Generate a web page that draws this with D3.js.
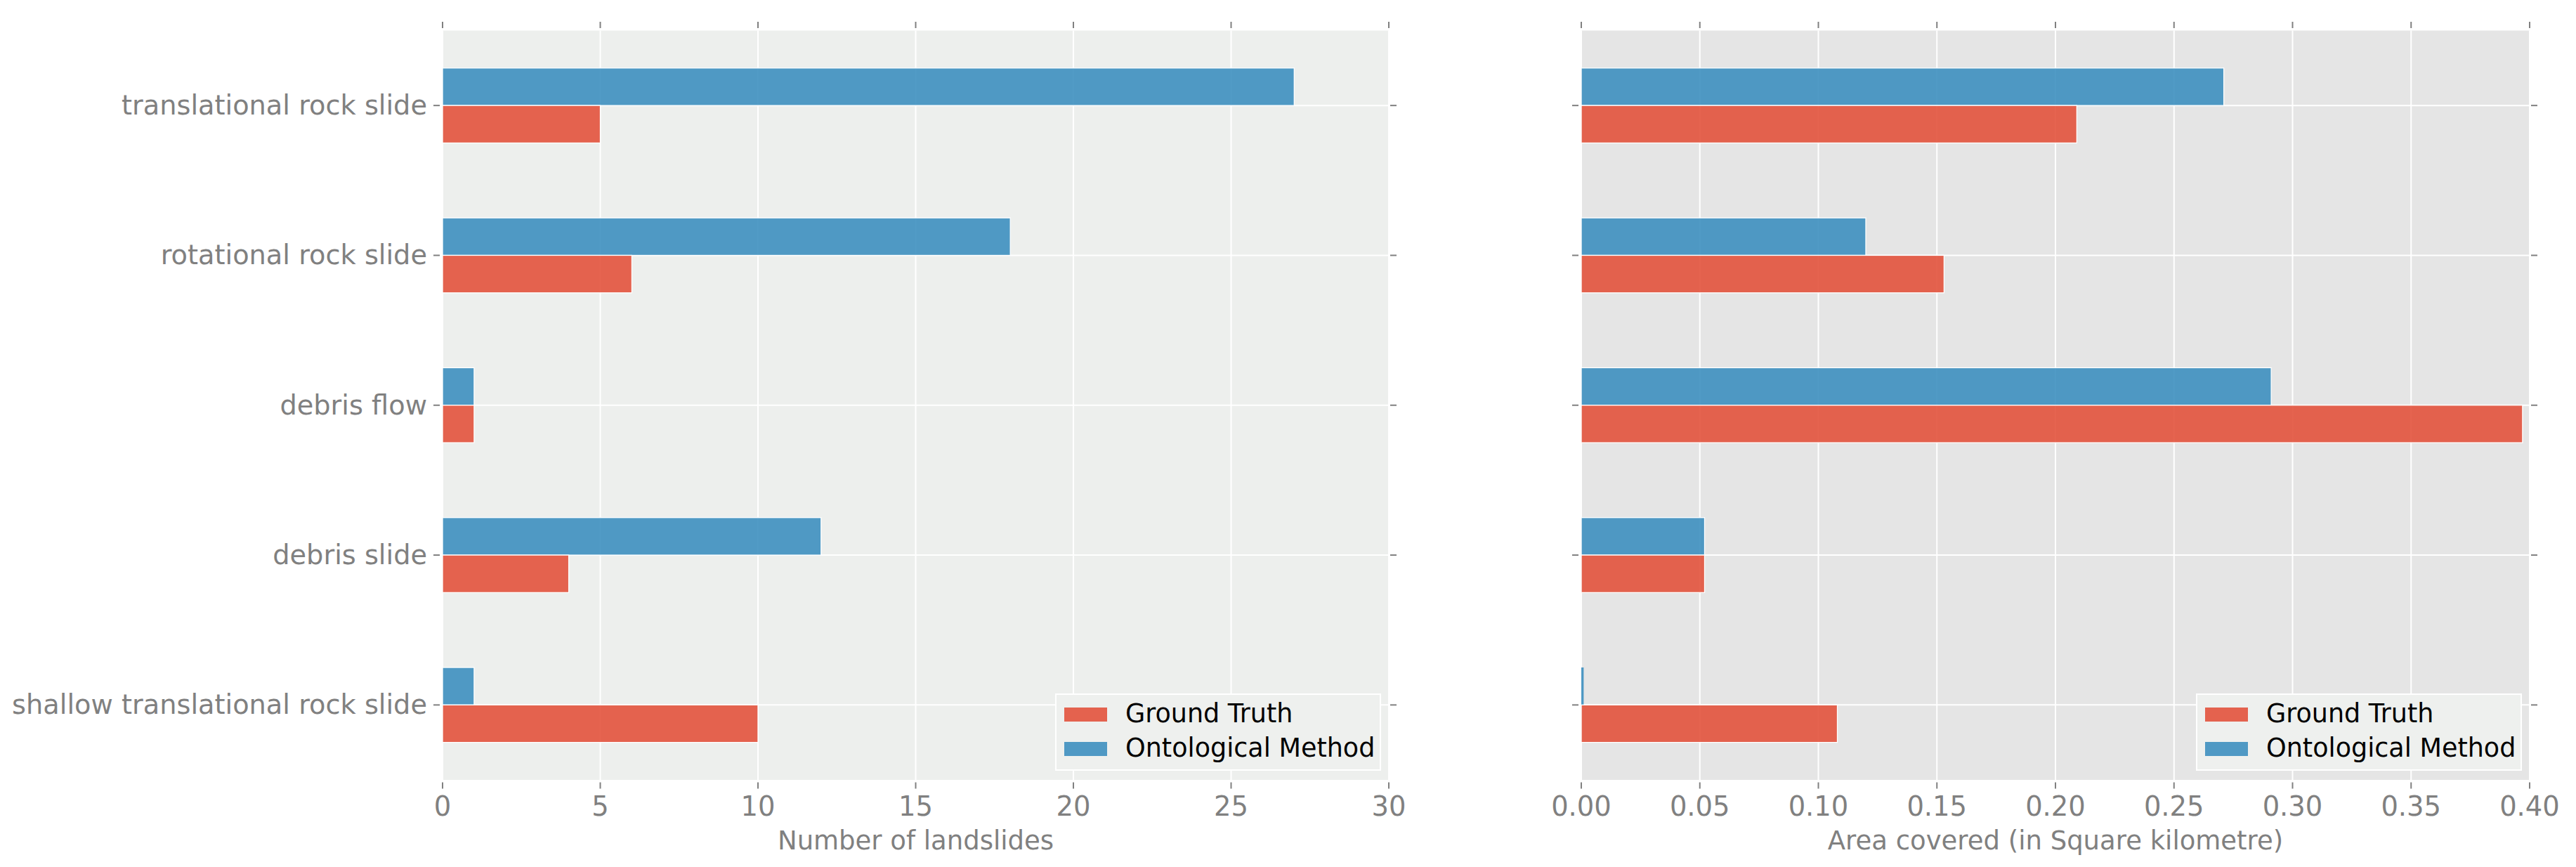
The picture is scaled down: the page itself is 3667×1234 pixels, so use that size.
<!DOCTYPE html>
<html>
<head>
<meta charset="utf-8">
<script src="https://cdn.jsdelivr.net/npm/d3@7"></script>
<style>
  body { margin: 0; background: #fff; }
  text { font-family: "DejaVu Sans", sans-serif; }
</style>
</head>
<body>
<svg id="chart" width="3667" height="1234"></svg>
<script>
// categories, top to bottom
const categories = [
    "translational rock slide",
    "rotational rock slide",
    "debris flow",
    "debris slide",
    "shallow translational rock slide"
];
const seriesNames = ["Ground Truth", "Ontological Method"];

// left panel: number of landslides
const countGroundTruth = [5, 6, 1, 4, 10];
const countOntological = [27, 18, 1, 12, 1];
const countTicks = [0, 5, 10, 15, 20, 25, 30];

// right panel: area covered (sq km)
const areaGroundTruth = [0.209, 0.153, 0.397, 0.052, 0.108];
const areaOntological = [0.271, 0.120, 0.291, 0.052, 0.001];
const areaTicks = [0, 0.05, 0.10, 0.15, 0.20, 0.25, 0.30, 0.35, 0.40];

const colors = { "Ground Truth": "#E24A33", "Ontological Method": "#348ABD" };

const svg = d3.select("#chart");
const plotTop = 43.5, plotBottom = 1110;
const tickColor = "#808080";

const y = d3.scaleBand().domain(categories).range([plotTop, plotBottom]).paddingInner(0).paddingOuter(0);
// Ontological above the category centre, ground truth below
const ySub = d3.scaleBand().domain(["Ontological Method", "Ground Truth"])
    .range([y.bandwidth() * 0.25, y.bandwidth() * 0.75]);

function panel(opts) {
    const x = d3.scaleLinear().domain(opts.domain).range([opts.left, opts.right]);
    const g = svg.append("g");

    g.append("rect")
        .attr("x", opts.left).attr("y", plotTop)
        .attr("width", opts.right - opts.left).attr("height", plotBottom - plotTop)
        .attr("fill", opts.bg);

    // grid
    g.selectAll(".vgrid").data(opts.ticks).join("line")
        .attr("x1", d => x(d)).attr("x2", d => x(d))
        .attr("y1", plotTop).attr("y2", plotBottom)
        .attr("stroke", "#fff").attr("stroke-width", 2);
    g.selectAll(".hgrid").data(categories).join("line")
        .attr("x1", opts.left).attr("x2", opts.right)
        .attr("y1", d => y(d) + y.bandwidth() / 2).attr("y2", d => y(d) + y.bandwidth() / 2)
        .attr("stroke", "#fff").attr("stroke-width", 2);

    // bars
    const rows = [];
    categories.forEach((c, i) => {
        rows.push({ cat: c, series: "Ontological Method", value: opts.om[i] });
        rows.push({ cat: c, series: "Ground Truth", value: opts.gt[i] });
    });
    g.selectAll(".bar").data(rows).join("rect")
        .attr("x", x(0))
        .attr("y", d => y(d.cat) + ySub(d.series))
        .attr("width", d => x(d.value) - x(0))
        .attr("height", ySub.bandwidth())
        .attr("fill", d => colors[d.series])
        .attr("fill-opacity", 0.86)
        .attr("stroke", "#fff")
        .attr("stroke-width", d => x(d.value) - x(0) < 6 && opts.thin ? 0 : 1.3);

    // x ticks top & bottom
    g.selectAll(".xt").data(opts.ticks).join("line")
        .attr("x1", d => x(d)).attr("x2", d => x(d))
        .attr("y1", plotTop - 3.5).attr("y2", plotTop - 12.5)
        .attr("stroke", tickColor).attr("stroke-width", 2);
    g.selectAll(".xb").data(opts.ticks).join("line")
        .attr("x1", d => x(d)).attr("x2", d => x(d))
        .attr("y1", plotBottom + 3.5).attr("y2", plotBottom + 12.5)
        .attr("stroke", tickColor).attr("stroke-width", 2);
    g.selectAll(".xl").data(opts.ticks).join("text")
        .attr("x", d => x(d)).attr("y", 1161)
        .attr("text-anchor", "middle")
        .attr("font-size", 38.5).attr("fill", tickColor)
        .text(opts.fmt);

    // y ticks left & right
    const cy = d => y(d) + y.bandwidth() / 2;
    g.selectAll(".yl").data(categories).join("line")
        .attr("x1", opts.left - 4).attr("x2", opts.left - 13)
        .attr("y1", cy).attr("y2", cy)
        .attr("stroke", tickColor).attr("stroke-width", 2);
    g.selectAll(".yr").data(categories).join("line")
        .attr("x1", opts.right + 2).attr("x2", opts.right + 11)
        .attr("y1", cy).attr("y2", cy)
        .attr("stroke", tickColor).attr("stroke-width", 2);
    if (opts.yLabels) {
        g.selectAll(".ylab").data(categories).join("text")
            .attr("x", opts.left - 22).attr("y", d => cy(d) + 13)
            .attr("text-anchor", "end")
            .attr("font-size", 38.3).attr("fill", tickColor)
            .text(d => d);
    }

    g.append("text")
        .attr("x", (opts.left + opts.right) / 2).attr("y", 1209)
        .attr("text-anchor", "middle")
        .attr("font-size", 37).attr("fill", tickColor)
        .text(opts.title);

    // legend
    const lw = 462, lh = 108;
    const lx = opts.right - 12 - lw, ly = 988;
    const lg = g.append("g").attr("transform", `translate(${lx},${ly})`);
    lg.append("rect").attr("width", lw).attr("height", lh)
        .attr("fill", "#EEF0EE").attr("stroke", "#fff").attr("stroke-width", 2);
    seriesNames.forEach((s, i) => {
        lg.append("rect")
            .attr("x", 12).attr("y", 19 + i * 49)
            .attr("width", 61).attr("height", 20)
            .attr("fill", colors[s]).attr("fill-opacity", 0.86);
        lg.append("text")
            .attr("x", 99).attr("y", 40 + i * 49)
            .attr("font-size", 36.5).attr("fill", "#000")
            .text(s);
    });
}

panel({
    left: 630, right: 1977, domain: [0, 30], ticks: countTicks,
    gt: countGroundTruth, om: countOntological, bg: "#EDEFED",
    fmt: d => d3.format("d")(d), yLabels: true, title: "Number of landslides"
});
panel({
    left: 2251, right: 3601, domain: [0, 0.40], ticks: areaTicks,
    gt: areaGroundTruth, om: areaOntological, bg: "#E5E5E5", thin: true,
    fmt: d => d3.format(".2f")(d), yLabels: false, title: "Area covered (in Square kilometre)"
});
</script>
</body>
</html>
